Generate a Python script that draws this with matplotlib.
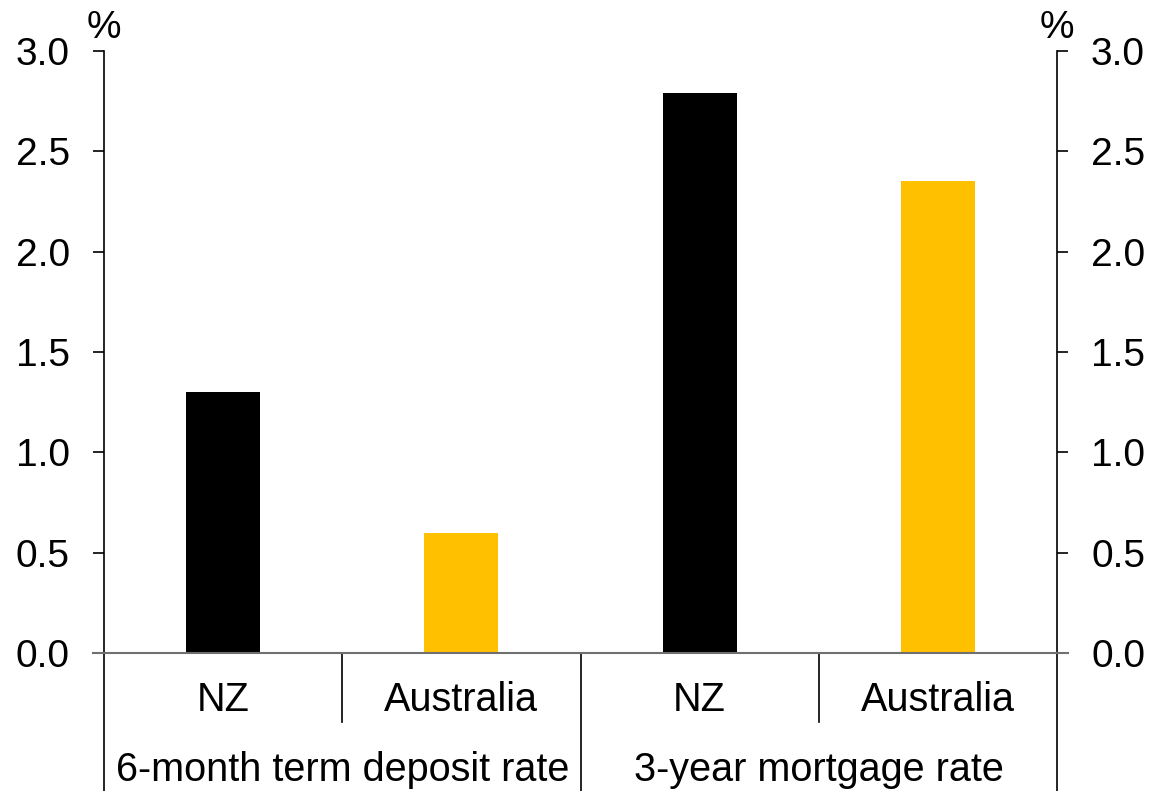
# Deposit and mortgage rates, NZ vs Australia

import matplotlib
matplotlib.use('Agg')
import matplotlib.pyplot as plt

plt.rcParams['font.family'] = ['Liberation Sans', 'DejaVu Sans']

countries = ['NZ', 'Australia', 'NZ', 'Australia']
groups = ['6-month term deposit rate', '3-year mortgage rate']
rates = [1.3, 0.6, 2.79, 2.35]
bar_colours = ['#000000', '#ffc000', '#000000', '#ffc000']
yticks = [0.0, 0.5, 1.0, 1.5, 2.0, 2.5, 3.0]

FS_TICK = 28
FS_LABEL = 28.5

fig = plt.figure(figsize=(11.51, 7.91), dpi=100)
ax = fig.add_axes([104 / 1151, 1 - 653 / 791,
                   (1057 - 104) / 1151, (653 - 51) / 791])

x = list(range(len(rates)))
ax.bar(x, rates, width=0.31, color=bar_colours, zorder=2)
ax.set_xlim(-0.5, 3.5)
ax.set_ylim(0, 3.0)
ax.set_yticks(yticks)
ax.set_yticklabels(['%.1f' % t for t in yticks])
ax.set_xticks([])

for side in ['top', 'bottom']:
    ax.spines[side].set_visible(False)
for side in ['left', 'right']:
    ax.spines[side].set_color('#000000')
    ax.spines[side].set_linewidth(1.2)

ax.tick_params(axis='y', direction='out', length=8, width=1.2,
               left=True, right=True, labelleft=True, labelright=True,
               labelsize=FS_TICK, pad=16.5)

# Zero line, running out over the tick marks
ext = 11 / 953
ax.plot([-ext, 1 + ext], [0, 0], transform=ax.transAxes,
        color='#707070', lw=1.5, clip_on=False, zorder=3)

# Category dividers below the axis
trans = ax.get_xaxis_transform()
for xs in [-0.5, 1.5, 3.5]:
    ax.plot([xs, xs], [0, -0.3], transform=trans, color='#000000',
            lw=1.2, clip_on=False)
for xs in [0.5, 2.5]:
    ax.plot([xs, xs], [0, -0.1146], transform=trans, color='#000000',
            lw=1.2, clip_on=False)

for xi, name in zip(x, countries):
    ax.text(xi, -0.078, name, transform=trans, ha='center', va='center',
            fontsize=FS_LABEL)
for gi, name in enumerate(groups):
    ax.text(0.5 + 2 * gi, -0.194, name, transform=trans, ha='center',
            va='center', fontsize=FS_LABEL)

# Unit labels above each axis
ax.text(0, 1.0216, '%', transform=ax.transAxes, ha='center',
        va='baseline', fontsize=FS_TICK)
ax.text(1, 1.0216, '%', transform=ax.transAxes, ha='center',
        va='baseline', fontsize=FS_TICK)

plt.savefig('out.png', dpi=100)
